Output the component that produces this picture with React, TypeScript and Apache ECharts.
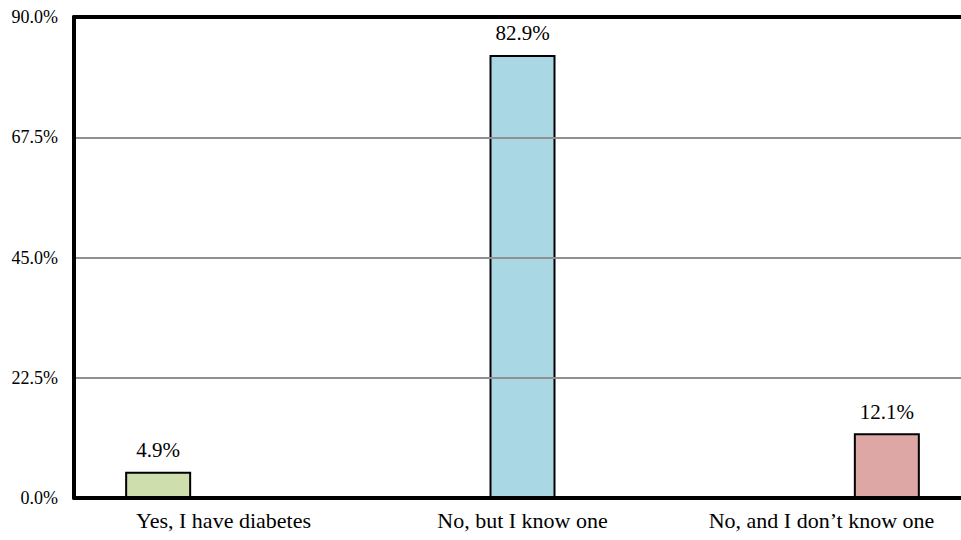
import React, { useEffect, useRef } from "react";
import * as echarts from "echarts";

const categories = ["Yes, I have diabetes", "No, but I know one", "No, and I don\u2019t know one"];
const seriesYes = [4.9, null, null];
const seriesKnow = [null, 82.9, null];
const seriesDont = [null, null, 12.1];
const barColors = ["#cfdead", "#a9d7e3", "#dda7a6"];
const yMin = 0;
const yMax = 90;
const yInterval = 22.5;

const FONT = "'Liberation Serif', 'Times New Roman', Times, serif";

export default function App() {
  const ref = useRef<HTMLDivElement>(null);
  useEffect(() => {
    if (!ref.current) return;
    const chart = echarts.init(ref.current, null, { renderer: "svg" });
    const mk = (name: string, data: (number | null)[], color: string) => ({
      name,
      type: "bar",
      data,
      barWidth: 66,
      barGap: "-1%",
      itemStyle: { color, borderColor: "#000", borderWidth: 2 },
      label: {
        show: true,
        position: "top",
        distance: 11,
        formatter: (p: any) => (p.value == null ? "" : Number(p.value).toFixed(1) + "%"),
        fontFamily: FONT,
        fontSize: 21,
        color: "#000",
      },
    });
    chart.setOption({
      animation: false,
      backgroundColor: "#fff",
      textStyle: { fontFamily: FONT },
      grid: {
        left: 74,
        width: 897,
        top: 17,
        bottom: 42,
        containLabel: false,
        outerBoundsMode: "none",
      },
      xAxis: [
        {
          type: "category",
          data: categories,
          position: "bottom",
          axisLine: { show: true, lineStyle: { color: "#000", width: 4 } },
          axisTick: { show: false },
          axisLabel: { fontFamily: FONT, fontSize: 22, color: "#000", margin: 11, interval: 0 },
          splitLine: { show: false },
          z: 10,
        },
        {
          type: "category",
          data: categories,
          position: "top",
          axisLine: { show: true, lineStyle: { color: "#000", width: 4 } },
          axisTick: { show: false },
          axisLabel: { show: false },
          splitLine: { show: false },
          z: 10,
        },
      ],
      yAxis: {
        type: "value",
        min: yMin,
        max: yMax,
        interval: yInterval,
        axisLine: { show: true, lineStyle: { color: "#000", width: 4 } },
        axisTick: { show: false },
        axisLabel: {
          fontFamily: FONT,
          fontSize: 18,
          color: "#000",
          margin: 16,
          formatter: (v: number) => v.toFixed(1) + "%",
        },
        splitLine: { show: true, lineStyle: { color: "#909090", width: 2 } },
        z: 10,
      },
      series: [
        mk("Yes", seriesYes, barColors[0]),
        mk("Know", seriesKnow, barColors[1]),
        mk("Dont", seriesDont, barColors[2]),
      ],
    });
    return () => chart.dispose();
  }, []);
  return <div ref={ref} style={{ width: 961, height: 540, position: "fixed", left: 0, top: 0 }} />;
}
